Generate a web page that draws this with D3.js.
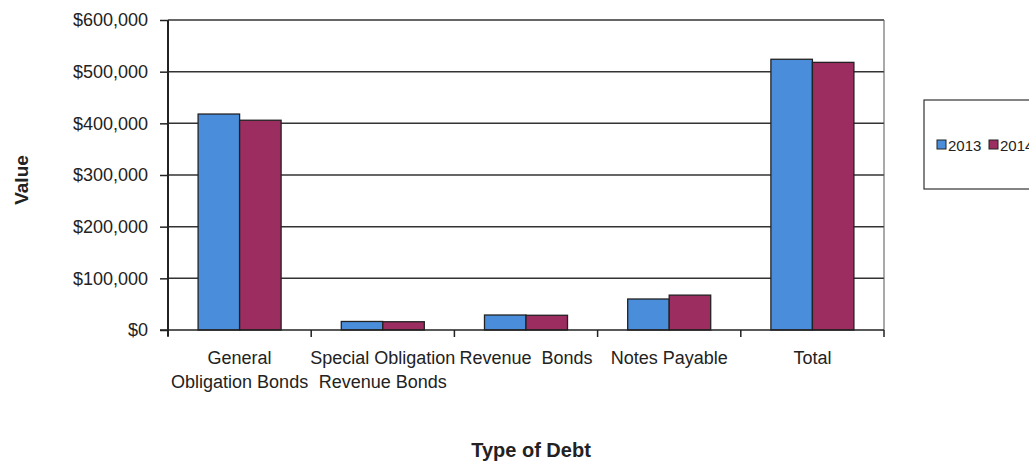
<!DOCTYPE html>
<html>
<head>
<meta charset="utf-8">
<script src="https://cdn.jsdelivr.net/npm/d3@7"></script>
<style>
  body { margin: 0; background: #fff; }
  svg { display: block; font-family: "Liberation Sans", Arial, sans-serif; }
</style>
</head>
<body>
<svg id="chart" width="1029" height="463"></svg>
<script>
(function (d3) {

    /***** Data *****/
    var categories = [
        ["General", "Obligation Bonds"],
        ["Special Obligation", "Revenue Bonds"],
        ["Revenue  Bonds"],
        ["Notes Payable"],
        ["Total"]
    ];
    var seriesNames = ["2013", "2014"];
    var values2013 = [418000, 16500, 29000, 60000, 524000];
    var values2014 = [406000, 16000, 28500, 67500, 518000];
    var yTicks = [0, 100000, 200000, 300000, 400000, 500000, 600000];
    var colors = ["#4a8edb", "#9b2d60"];

    /***** Configuration *****/
    var plot = { left: 168, right: 884, top: 20, bottom: 330 };
    var svg = d3.select("#chart");

    /***** Scales *****/
    var x0 = d3.scaleBand().domain(d3.range(categories.length))
        .range([plot.left, plot.right]).padding(0);
    var x1 = d3.scaleBand().domain(seriesNames)
        .range([0, x0.bandwidth()]).paddingInner(0).paddingOuter(0.725);
    var y = d3.scaleLinear().domain([0, 600000]).range([plot.bottom, plot.top]);
    var color = d3.scaleOrdinal().domain(seriesNames).range(colors);

    var series = [values2013, values2014];
    var rows = categories.map(function (c, i) {
        return seriesNames.map(function (s, j) {
            return { cat: i, key: s, value: series[j][i] };
        });
    });

    /***** Gridlines *****/
    svg.append("g").selectAll("line").data(yTicks.filter(function (d) { return d > 0; }))
        .enter().append("line")
        .attr("x1", plot.left).attr("x2", plot.right)
        .attr("y1", function (d) { return y(d); })
        .attr("y2", function (d) { return y(d); })
        .attr("stroke", "#333").attr("stroke-width", 1.5);

    // right border of plot area
    svg.append("line")
        .attr("x1", plot.right).attr("x2", plot.right)
        .attr("y1", plot.top).attr("y2", plot.bottom)
        .attr("stroke", "#555").attr("stroke-width", 1);

    /***** Bars *****/
    svg.append("g").selectAll("g").data(rows).enter().append("g")
        .attr("transform", function (d, i) { return "translate(" + x0(i) + ",0)"; })
        .selectAll("rect").data(function (d) { return d; }).enter().append("rect")
        .attr("x", function (d) { return x1(d.key); })
        .attr("y", function (d) { return y(d.value); })
        .attr("width", x1.bandwidth())
        .attr("height", function (d) { return y(0) - y(d.value); })
        .attr("fill", function (d) { return color(d.key); })
        .attr("stroke", "#222").attr("stroke-width", 1.3);

    /***** Axes *****/
    var yAxis = d3.axisLeft(y).tickValues(yTicks).tickSize(8).tickPadding(12)
        .tickFormat(function (d) { return "$" + d3.format(",")(d); });
    var gy = svg.append("g").attr("transform", "translate(" + plot.left + ",0)").call(yAxis);
    gy.select(".domain").attr("stroke", "#222").attr("stroke-width", 2)
        .attr("d", "M0," + plot.top + "V" + (plot.bottom + 6));
    gy.selectAll(".tick line").attr("stroke", "#222").attr("stroke-width", 1.5);
    gy.selectAll(".tick text").attr("font-size", 18).attr("fill", "#222")
        .attr("font-family", "'Liberation Sans', Arial, sans-serif");

    var gx = svg.append("g");
    gx.append("line")
        .attr("x1", plot.left - 8).attr("x2", plot.right)
        .attr("y1", plot.bottom).attr("y2", plot.bottom)
        .attr("stroke", "#222").attr("stroke-width", 1.5);
    var bounds = d3.range(categories.length + 1).map(function (i) {
        return i < categories.length ? x0(i) : plot.right;
    });
    gx.selectAll("line.tick").data(bounds).enter().append("line")
        .attr("class", "tick")
        .attr("x1", function (d) { return d; }).attr("x2", function (d) { return d; })
        .attr("y1", plot.bottom).attr("y2", plot.bottom + 7)
        .attr("stroke", "#222").attr("stroke-width", 1.5);

    var labels = gx.selectAll("text").data(categories).enter().append("text")
        .attr("text-anchor", "middle").attr("font-size", 18).attr("fill", "#222")
        .style("white-space", "pre");
    labels.selectAll("tspan").data(function (d, i) {
        return d.map(function (t) { return { t: t, i: i }; });
    }).enter().append("tspan")
        .attr("x", function (d) { return x0(d.i) + x0.bandwidth() / 2; })
        .attr("y", function (d, k) { return 364 + k * 24; })
        .text(function (d) { return d.t; });

    /***** Axis titles *****/
    svg.append("text")
        .attr("transform", "translate(28,180) rotate(-90)")
        .attr("text-anchor", "middle").attr("font-size", 19).attr("font-weight", "bold")
        .attr("fill", "#222").text("Value");
    svg.append("text")
        .attr("x", 531).attr("y", 457)
        .attr("text-anchor", "middle").attr("font-size", 20).attr("font-weight", "bold")
        .attr("fill", "#222").text("Type of Debt");

    /***** Legend *****/
    var legend = svg.append("g");
    legend.append("rect")
        .attr("x", 924).attr("y", 100).attr("width", 130).attr("height", 89)
        .attr("fill", "#fff").attr("stroke", "#333").attr("stroke-width", 1.2);
    var legX = [937, 989];
    var items = legend.selectAll("g.item").data(seriesNames).enter().append("g")
        .attr("class", "item")
        .attr("transform", function (d, i) { return "translate(" + legX[i] + ",145)"; });
    items.append("rect")
        .attr("x", 0).attr("y", -5).attr("width", 9).attr("height", 9)
        .attr("fill", function (d) { return color(d); })
        .attr("stroke", "#222").attr("stroke-width", 1);
    items.append("text")
        .attr("x", 11).attr("y", 6).attr("font-size", 15).attr("fill", "#222")
        .text(function (d) { return d; });

})(d3);
</script>
</body>
</html>
